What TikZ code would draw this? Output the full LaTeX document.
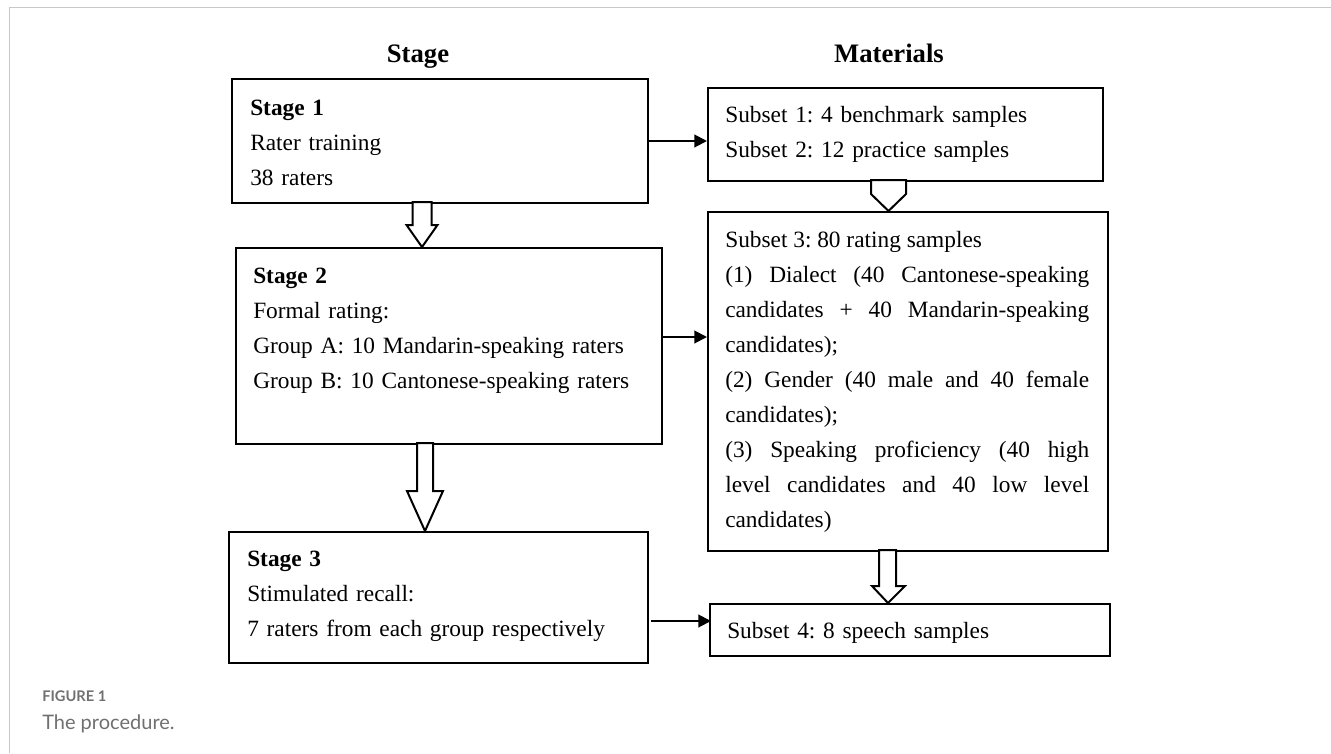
\documentclass[tikz,border=0pt]{standalone}
\usepackage{fontspec}
\setmainfont{Liberation Serif}
\newfontfamily\capfont{Lato}
\usepackage{tikz}
\usetikzlibrary{arrows.meta}
\hyphenpenalty=10000
\exhyphenpenalty=10000
\frenchspacing
\definecolor{framegrey}{RGB}{200,200,200}
\definecolor{capgrey}{RGB}{112,112,112}

\begin{document}
\begin{tikzpicture}[x=0.75pt,y=0.75pt,yscale=-1,xscale=1,
    box/.style={draw,line width=1.5pt,anchor=north west,inner sep=0pt},
    txt/.style={anchor=base west,inner sep=0pt,align=left,font=\fontsize{17.5}{26.25}\selectfont},
    link/.style={line width=1.5pt,-{Triangle[length=9.5pt,width=9.5pt]}},
    hollow/.style={draw,line width=1.5pt,fill=white,line join=miter},
    head/.style={anchor=base,inner sep=0pt,font=\fontsize{20}{24}\selectfont\bfseries}]
    \useasboundingbox (0,0) rectangle (1331,753);
    % page frame
    \draw[framegrey,line width=0.75pt] (9,753) -- (9,7) -- (1331,7);
    % column heads
    \node[head] (stagehead) at (418,62) {Stage};
    \node[head] (mathead) at (889,62) {Materials};
    % stage boxes
    \node[box,minimum width=312pt,minimum height=93pt] (stage1) at (231,78) {};
    \node[txt,text width=300pt] (stage1txt) at ([shift={(19,37)}]stage1.north west)
        {\textbf{Stage 1}\\Rater training\\38 raters};
    \node[box,minimum width=319.5pt,minimum height=147pt] (stage2) at (235,247) {};
    \node[txt,text width=305pt] (stage2txt) at ([shift={(18,36)}]stage2.north west)
        {\textbf{Stage 2}\\Formal rating:\\Group A: 10 Mandarin-speaking raters\\Group B: 10 Cantonese-speaking raters};
    \node[box,minimum width=314.25pt,minimum height=98.25pt] (stage3) at (228,531) {};
    \node[txt,text width=300pt] (stage3txt) at ([shift={(19,35)}]stage3.north west)
        {\textbf{Stage 3}\\Stimulated recall:\\7 raters from each group respectively};
    % material boxes
    \node[box,minimum width=296.25pt,minimum height=69.75pt] (sub12) at (707,87) {};
    \node[txt,text width=280pt] (sub12txt) at ([shift={(18,35)}]sub12.north west)
        {Subset 1: 4 benchmark samples\\Subset 2: 12 practice samples};
    \node[box,minimum width=300pt,minimum height=254.25pt] (sub3) at (707,211) {};
    \node[txt,text width=273pt,align=justify] (sub3txt) at ([shift={(18,36)}]sub3.north west)
        {Subset 3: 80 rating samples\par
         (1) Dialect (40 Cantonese-speaking\linebreak candidates + 40 Mandarin-speaking\linebreak candidates);\par
         (2) Gender (40 male and 40 female\linebreak candidates);\par
         (3) Speaking proficiency (40 high\linebreak level candidates and 40 low level\linebreak candidates)};
    \node[box,minimum width=300pt,minimum height=39pt] (sub4) at (709,603) {};
    \node[txt,text width=280pt] (sub4txt) at ([shift={(18,35)}]sub4.north west)
        {Subset 4: 8 speech samples};
    % thin arrows
    \draw[link] (stage1.east) -- (stage1.east -| sub12.west);
    \draw[link] ([shift={(0,-9)}]stage2.east) -- ([shift={(0,-9)}]stage2.east -| sub3.west);
    \draw[link] ([shift={(2,23.5)}]stage3.east) -- ([shift={(2,23.5)}]stage3.east -| sub4.west);
    % hollow arrows
    \draw[hollow] (412.5,202) -- (412.5,225) -- (406.5,225) -- (422,247) -- (437.5,225) -- (431.5,225) -- (431.5,202) -- cycle;
    \draw[hollow] (417,443) -- (417,491) -- (407,491) -- (425,531) -- (443,491) -- (433,491) -- (433,443) -- cycle;
    \draw[hollow] (871,180) -- (871,194) -- (888.5,211) -- (906,194) -- (906,180) -- cycle;
    \draw[hollow] (879,550) -- (879,586) -- (872,586) -- (888,603) -- (905,586) -- (896,586) -- (896,550) -- cycle;
    % caption
    \node[anchor=base west,inner sep=0pt,text=capgrey,font=\capfont\bfseries\fontsize{11}{13}\selectfont] (figlabel) at (42,701) {FIGURE 1};
    \node[anchor=base west,inner sep=0pt,text=capgrey,font=\capfont\fontsize{15}{18}\selectfont] (figcaption) at (42,729) {The procedure.};
\end{tikzpicture}
\end{document}
